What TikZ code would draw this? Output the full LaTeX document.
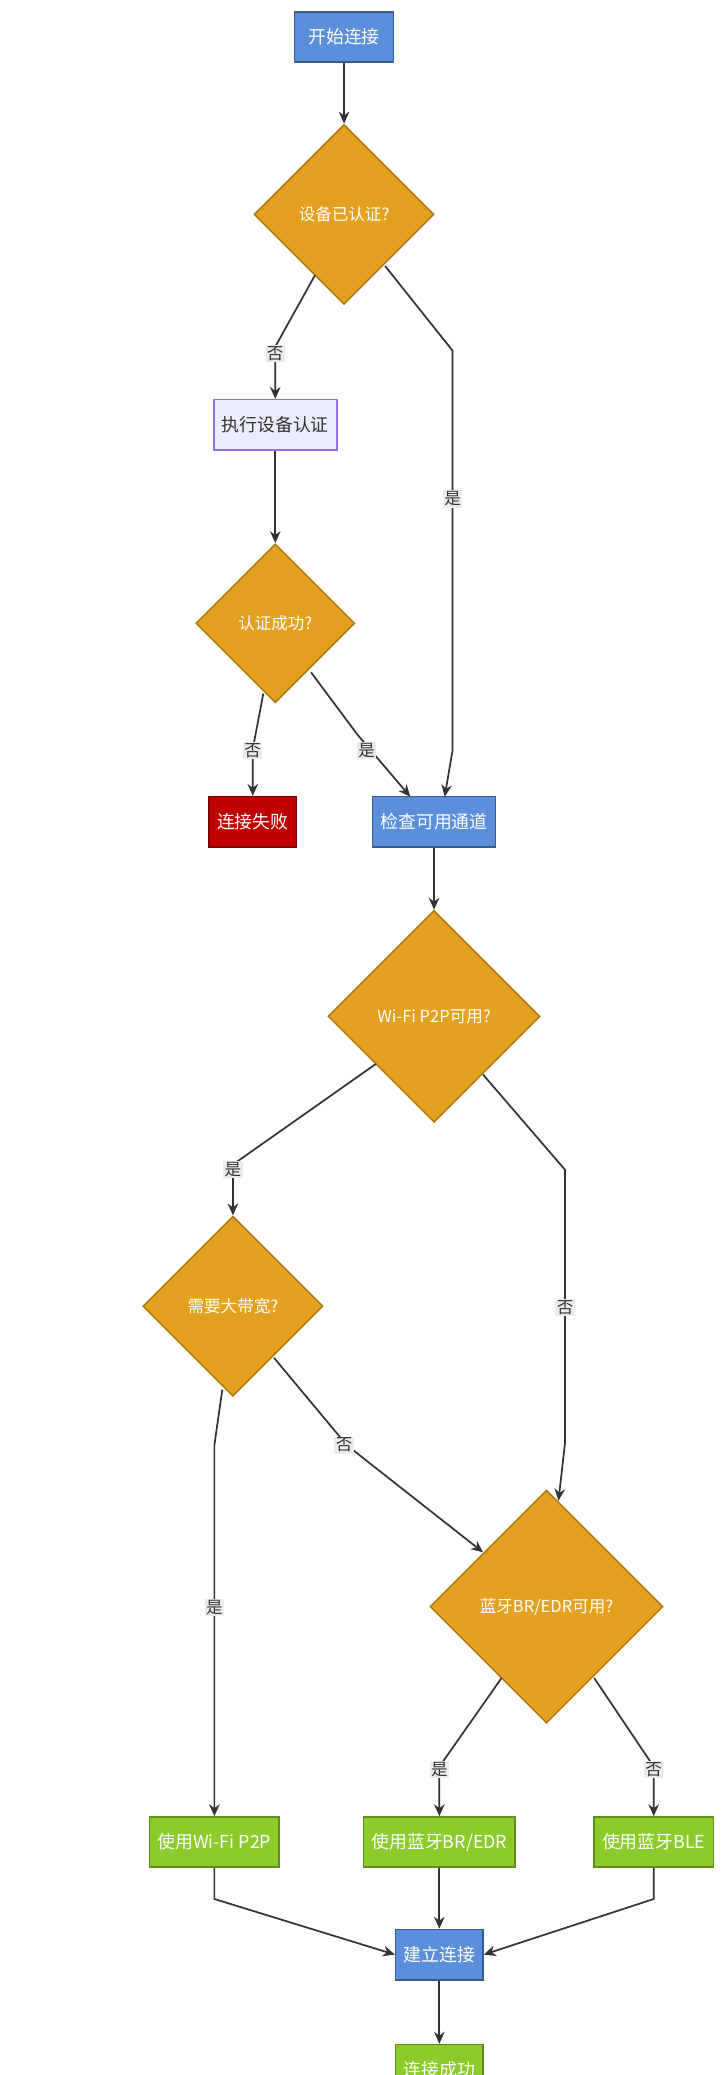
\documentclass[tikz,border=0pt]{standalone}
\usepackage{fontspec}
\setmainfont{Noto Sans CJK SC}
\usetikzlibrary{shapes.geometric,arrows.meta}
\definecolor{bl}{HTML}{5B8FDB}\definecolor{blb}{HTML}{3A5A8C}
\definecolor{org}{HTML}{E4A11F}\definecolor{orgb}{HTML}{B07A10}
\definecolor{gr}{HTML}{8CCB2C}\definecolor{grb}{HTML}{5E8F1A}
\definecolor{rd}{HTML}{C00000}\definecolor{rdb}{HTML}{800000}
\definecolor{lv}{HTML}{ECECFF}\definecolor{lvb}{HTML}{9370DB}
\definecolor{ln}{HTML}{333333}
\begin{document}
\begin{tikzpicture}[x=1pt,y=-1pt,
 box/.style={draw=#1,line width=1.2pt,minimum height=38pt,inner xsep=6pt,font=\fontsize{13.5}{15}\selectfont},
 blue/.style={box=blb,fill=bl,text=white},
 green/.style={box=grb,fill=gr,text=white},
 dia/.style={diamond,draw=orgb,fill=org,line width=1.2pt,text=white,inner sep=0pt,minimum width=#1,minimum height=#1,font=\fontsize{12.5}{14}\selectfont},
 e/.style={draw=ln,line width=1.3pt,-{Stealth[length=9pt,width=8pt]}},
 lab/.style={fill=black!8,inner sep=1pt,font=\fontsize{12.5}{14}\selectfont,text=black!80}]
\clip (0,0) rectangle (545,1568);
\fill[white] (0,0) rectangle (545,1568);
\node[blue,minimum width=75pt] (s) at (260,28) {开始连接};
\node[dia=136pt] (d1) at (260,162) {设备已认证?};
\node[box=lvb,fill=lv,text=black!80] (auth) at (208,321) {执行设备认证};
\node[dia=120pt] (d2) at (208,471) {认证成功?};
\node[box=rdb,fill=rd,text=white] (fail) at (191,621) {连接失败};
\node[blue] (chk) at (328,621) {检查可用通道};
\node[dia=160pt] (d3) at (328,768) {Wi-Fi P2P可用?};
\node[dia=136pt] (d4) at (176,987) {需要大带宽?};
\node[dia=176pt] (d5) at (413,1214) {蓝牙BR/EDR可用?};
\node[green] (wifi) at (162,1392) {使用Wi-Fi P2P};
\node[green] (bredr) at (332,1392) {使用蓝牙BR/EDR};
\node[green] (ble) at (494,1392) {使用蓝牙BLE};
\node[blue] (bld) at (332,1477) {建立连接};
\node[green] (ok) at (332,1564) {连接成功};

\draw[e] (s) -- (d1);
\draw[e] (238,208) -- (208,262) -- (auth);
\node[lab] at (208,267) {否};
\draw[e] (291,201) -- (342,265) -- (342,567) -- (336,602);
\node[lab] at (342,377) {是};
\draw[e] (auth) -- (d2);
\draw[e] (199,524) -- (191,566) -- (fail);
\node[lab] at (191,567) {否};
\draw[e] (235,508) -- (270,555) -- (310,602);
\node[lab] at (277,567) {是};
\draw[e] (chk) -- (d3);
\draw[e] (284,804) -- (176,880) -- (d4);
\node[lab] at (176,884) {是};
\draw[e] (365,812) -- (427,884) -- (427,1090) -- (422,1134);
\node[lab] at (427,988) {否};
\draw[e] (168,1050) -- (162,1092) -- (wifi);
\node[lab] at (162,1215) {是};
\draw[e] (207,1026) -- (262,1092) -- (365,1173);
\node[lab] at (260,1092) {否};
\draw[e] (379,1268) -- (332,1335) -- (bredr);
\node[lab] at (332,1337) {是};
\draw[e] (449,1268) -- (494,1335) -- (ble);
\node[lab] at (494,1337) {否};
\draw[e] (wifi.south) -- (162,1435) -- (bld.west);
\draw[e] (bredr) -- (bld);
\draw[e] (ble.south) -- (494,1435) -- (bld.east);
\draw[e] (bld) -- (ok);
\end{tikzpicture}
\end{document}
